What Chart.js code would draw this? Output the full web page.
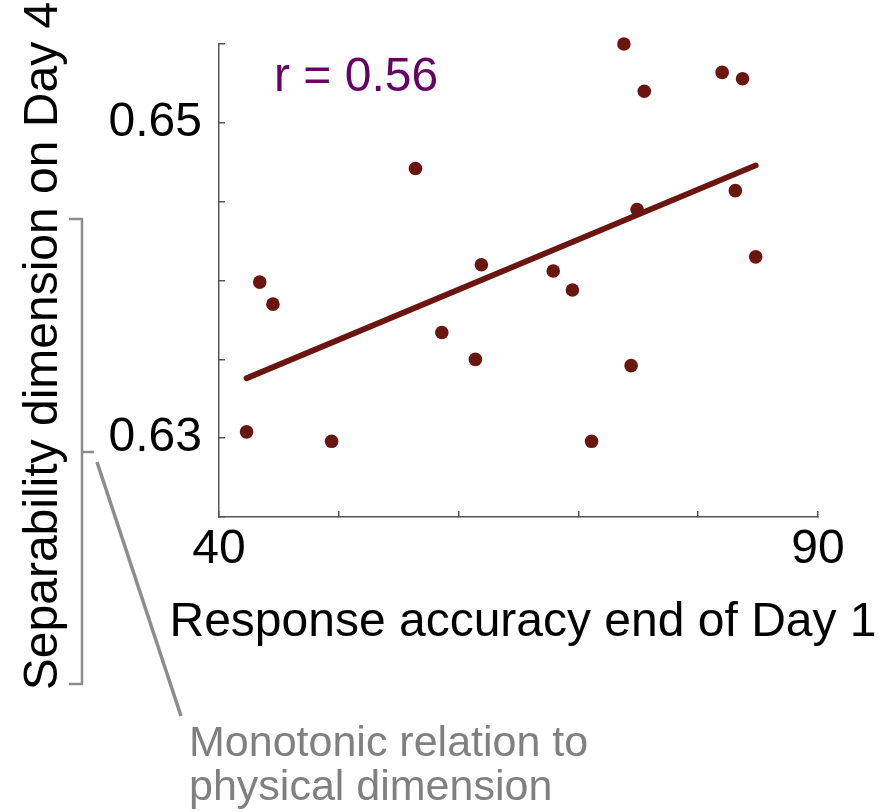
<!DOCTYPE html>
<html><head><meta charset="utf-8">
<script src="https://cdn.jsdelivr.net/npm/chart.js@4.4.1/dist/chart.umd.min.js"></script>
<style>html,body{margin:0;padding:0;background:#fff;}#wrap{width:885px;height:812px;}</style>
</head><body><div id="wrap"><canvas id="c" width="885" height="812"></canvas></div>
<script>
// ---- data ----
const accuracyDay1 = [42.3, 43.4, 44.5, 49.4, 56.4, 58.6, 61.4, 61.9, 67.9, 69.5, 71.1, 73.8, 74.4, 74.9, 75.5, 82.0, 83.1, 83.7, 84.8];
const separabilityDay4 = [0.6304, 0.6399, 0.6385, 0.6298, 0.6471, 0.6367, 0.6350, 0.6410, 0.6406, 0.6394, 0.6298, 0.6550, 0.6346, 0.6445, 0.6520, 0.6532, 0.6457, 0.6528, 0.6415];
const fitX = [42.3, 84.8];
const fitY = [0.6338, 0.6473];
const xTickLabels = [40, 90];
const yTickLabels = [0.63, 0.65];
const xTitle = 'Response accuracy end of Day 1';
const yTitle = 'Separability dimension on Day 4';
const rText = 'r = 0.56';
const noteLines = ['Monotonic relation to', 'physical dimension'];

const RED = '#6b1510';
const FONT = '"Liberation Sans", Arial, sans-serif';

const points = accuracyDay1.map((x, i) => ({x: x, y: separabilityDay4[i]}));
const fitLine = fitX.map((x, i) => ({x: x, y: fitY[i]}));

const annot = {
  id: 'annot',
  afterDraw(chart) {
    const c = chart.ctx;
    c.save();
    c.fillStyle = '#000';
    c.font = '48px ' + FONT;
    c.textAlign = 'center';
    c.textBaseline = 'alphabetic';
    c.fillText(xTitle, 523, 636);
    c.save();
    c.translate(57, 346);
    c.rotate(-Math.PI / 2);
    c.fillText(yTitle, 0, 0);
    c.restore();

    c.fillStyle = '#660066';
    c.font = '48px ' + FONT;
    c.textAlign = 'left';
    c.fillText(rText, 274, 91);

    c.strokeStyle = '#8c8c8c';
    c.lineWidth = 2.5;
    c.lineJoin = 'round';
    c.lineCap = 'butt';
    c.beginPath();
    c.moveTo(69, 219); c.lineTo(82, 219); c.lineTo(82, 684); c.lineTo(69, 684);
    c.stroke();
    c.beginPath();
    c.moveTo(82, 452); c.lineTo(94, 452);
    c.stroke();
    c.lineWidth = 3.5;
    c.beginPath();
    c.moveTo(97, 462); c.lineTo(181, 716);
    c.stroke();

    c.fillStyle = '#808080';
    c.font = '43px ' + FONT;
    c.fillText(noteLines[0], 189, 756);
    c.fillText(noteLines[1], 189, 800);
    c.restore();
  }
};

new Chart(document.getElementById('c').getContext('2d'), {
  type: 'scatter',
  data: {
    datasets: [
      {type: 'line', data: fitLine, borderColor: RED, borderWidth: 5.8, borderCapStyle: 'round', pointRadius: 0, fill: false, tension: 0, clip: false},
      {data: points, backgroundColor: RED, borderColor: RED, borderWidth: 0, pointRadius: 6.8, pointHoverRadius: 6.8, clip: false}
    ]
  },
  options: {
    responsive: false,
    animation: false,
    devicePixelRatio: 1,
    layout: {padding: {top: 44, right: 67, left: 0, bottom: 0}},
    plugins: {legend: {display: false}, tooltip: {enabled: false}},
    scales: {
      x: {
        type: 'linear', min: 40, max: 90,
        afterFit(s) { s.height = 295; s.paddingLeft = 0; s.paddingRight = 0; },
        ticks: {
          stepSize: 10, autoSkip: false, maxRotation: 0, padding: 10,
          font: {family: FONT, size: 48}, color: '#000',
          callback: (v) => xTickLabels.some(t => Math.abs(t - v) < 1e-9) ? String(v) : ''
        },
        grid: {drawOnChartArea: false, drawTicks: true, tickLength: -6, color: '#555', lineWidth: 1.5},
        border: {color: '#555', width: 1.5}
      },
      y: {
        type: 'linear', min: 0.625, max: 0.655,
        afterFit(s) { s.width = 219; s.paddingTop = 0; s.paddingBottom = 0; },
        ticks: {
          stepSize: 0.005, autoSkip: false, padding: 23,
          font: {family: FONT, size: 48}, color: '#000',
          callback: (v) => { const t = yTickLabels.find(t => Math.abs(t - v) < 1e-9); return t !== undefined ? t.toFixed(2) : ''; }
        },
        grid: {drawOnChartArea: false, drawTicks: true, tickLength: -6, color: '#555', lineWidth: 1.5},
        border: {color: '#555', width: 1.5}
      }
    }
  },
  plugins: [annot]
});
</script>
</body></html>
